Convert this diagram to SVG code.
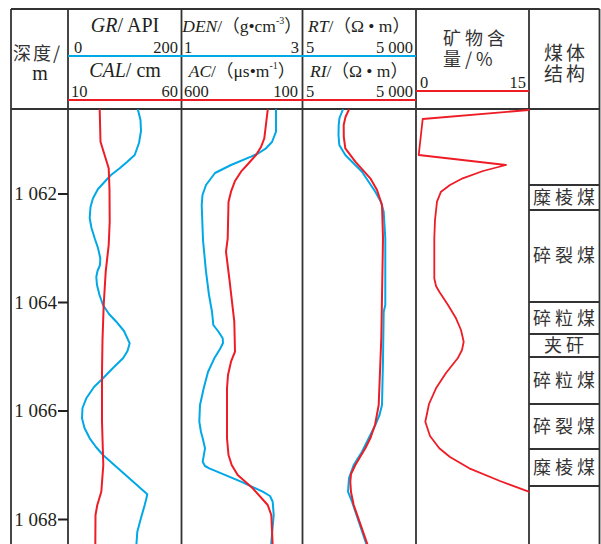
<svg xmlns="http://www.w3.org/2000/svg" width="601" height="544" viewBox="0 0 601 544">
<style>
.frame{stroke:#333;stroke-width:1.8;fill:none}
.t{font-family:"Liberation Serif","Noto Sans CJK SC",serif;fill:#231f20}
.lab{font-size:17.5px}
.big{font-size:20px}
.num{font-size:16.5px}
.dep{font-size:19px}
.cjk{font-family:"Noto Sans CJK SC","Liberation Serif",serif;fill:#333;font-size:18px;letter-spacing:4px}
.blue{stroke:#00a8e6;stroke-width:2;fill:none;stroke-linejoin:round;stroke-linecap:round}
.red{stroke:#ee1c25;stroke-width:2;fill:none;stroke-linejoin:round;stroke-linecap:round}
.tick{stroke:#231f20;stroke-width:2}
</style>
<rect width="601" height="544" fill="#fff"/>
<g id="frame">
<path class="frame" d="M11,9H599.5M11,109H599.5M11,9V544M68,9V544M181.5,9V544M302.5,9V544M416,9V544M529,9V544M599.5,9V544"/>
</g>
<g id="header-depth">
<text class="cjk" x="13" y="60" style="font-size:18px;letter-spacing:2px">深度/</text>
<text class="t big" x="40" y="80" text-anchor="middle">m</text>
</g>
<g id="header-gr-cal">
<text class="t big" x="125" y="32" text-anchor="middle"><tspan font-style="italic">GR</tspan>/ API</text>
<text class="t num" x="74" y="53">0</text>
<text class="t num" x="178" y="53" text-anchor="end">200</text>
<line x1="68" y1="56" x2="416" y2="56" stroke="#00a8e6" stroke-width="2"/>
<text class="t big" x="125" y="77" text-anchor="middle"><tspan font-style="italic">CAL</tspan>/ cm</text>
<text class="t num" x="71" y="97">10</text>
<text class="t num" x="178" y="97" text-anchor="end">60</text>
<line x1="68" y1="100" x2="416" y2="100" stroke="#ee1c25" stroke-width="2"/>
</g>
<g id="header-den-ac">
<text class="t lab" x="242" y="32" text-anchor="middle"><tspan font-style="italic">DEN</tspan>/（g•cm<tspan font-size="10" dy="-8">-3</tspan><tspan dy="8">）</tspan></text>
<text class="t num" x="184" y="53">1</text>
<text class="t num" x="299" y="53" text-anchor="end">3</text>
<text class="t lab" x="242" y="77" text-anchor="middle"><tspan font-style="italic">AC</tspan>/（μs•m<tspan font-size="10" dy="-8">-1</tspan><tspan dy="8">）</tspan></text>
<text class="t num" x="184" y="97">600</text>
<text class="t num" x="298" y="97" text-anchor="end">100</text>
</g>
<g id="header-rt-ri">
<text class="t lab" x="359" y="32" text-anchor="middle"><tspan font-style="italic">RT</tspan>/（Ω • m）</text>
<text class="t num" x="306" y="53">5</text>
<text class="t num" x="413" y="53" text-anchor="end">5 000</text>
<text class="t lab" x="359" y="77" text-anchor="middle"><tspan font-style="italic">RI</tspan>/（Ω • m）</text>
<text class="t num" x="306" y="97">5</text>
<text class="t num" x="413" y="97" text-anchor="end">5 000</text>
</g>
<g id="header-mineral">
<text class="cjk" x="443" y="45">矿物含</text>
<text class="cjk" x="443" y="66">量/%</text>
<text class="t num" x="420" y="88">0</text>
<text class="t num" x="526" y="88" text-anchor="end">15</text>
<line x1="416" y1="91" x2="529" y2="91" stroke="#ee1c25" stroke-width="2"/>
</g>
<g id="header-structure">
<text class="cjk" x="566" y="60" text-anchor="middle" style="font-size:19px;letter-spacing:3px">煤体</text>
<text class="cjk" x="566" y="81" text-anchor="middle" style="font-size:19px;letter-spacing:3px">结构</text>
</g>
<g id="depth-scale">
<path class="tick" d="M58,194H68M58,302.5H68M58,411H68M58,519.5H68"/>
<text class="t dep" x="57" y="200" text-anchor="end">1 062</text>
<text class="t dep" x="57" y="308.5" text-anchor="end">1 064</text>
<text class="t dep" x="57" y="417" text-anchor="end">1 066</text>
<text class="t dep" x="57" y="525.5" text-anchor="end">1 068</text>
</g>
<g id="track-gr-cal">
<polyline class="blue" points="138,110 140.5,120 141,131 139,143 134.7,155 127,162 119.7,168.3 111,175 104.7,181.7 98,189 93,198.3 90.5,207 89.7,218.3 91.5,228 94.7,238.3 98,248 100.3,258.3 100,265 97.5,271 96.3,277 97,285 99.5,295 103,305 109,314 116.3,321.7 124,331 129.7,343.3 127.5,351 123,358.3 113,368 103,378.3 94,387 86.3,398.3 82.5,408 82,418.3 84.5,428 89.7,438.3 96,447 103,455 147.3,494.3 146,500 144.7,505 141,518 137.3,531.7 136.3,546"/>
<polyline class="red" points="99.7,110 100.5,141.7 108.7,168.3 109.5,190 109.7,221.7 108.7,245 105.7,271.7 103.7,305 102.5,340 102,371.7 102,421.7 103.3,465 101.3,491.7 97.3,505 95.5,515 95.3,546"/>
</g>
<g id="track-den-ac">
<polyline class="blue" points="276,110 276,131.7 272,142 266,148.3 258,153.5 251,156.7 231,165 215,173 206,185 202.5,195 201.7,205 203,240 206,271.7 209,295 212,311.7 213.3,325 218,331 222.7,338.3 223,343 220,349 214.3,358.3 208,372 203.7,388.3 200,405 199.3,421.7 201,432 202.7,438.3 205,448.3 202.7,461.7 205,466 209.3,468.3 241,481.7 262.7,491.7 270,496 272.7,501.7 273.7,515 271,546"/>
<polyline class="red" points="267.7,110 264.3,138.3 261,147 256,155 248,164 241,171.7 235,181 231,191.7 228.5,202 228.3,211.7 227.7,238.3 226,251.7 229.3,278.3 234.3,321.7 235,351.7 231,361.7 228,375 227,388.3 227,438.3 228.5,455 231.7,465 237.7,475 252.7,488.3 267.7,505 271.3,515 272.7,546"/>
</g>
<g id="track-rt-ri">
<polyline class="blue" points="342.7,110 339.5,118 338.7,125 338.5,135 339.3,145 345.3,155 362,171.7 375.3,191.7 381,202 383.7,211.7 385.3,238.3 385.3,305 383.7,311.7 383,360 382,405 379.5,415 375.3,425 362,451.7 353.7,465 349,478 348,491.7 352,501.7 367,546"/>
<polyline class="red" points="348.7,110 345.5,117 343.7,125 343.8,137 345.3,148.3 355.3,161.7 370.3,178.3 377,190 382,205 383,238.3 381.3,338.3 378.7,405 375,425 370.3,438.3 365.3,448.3 355.3,465 351,474 350.3,481.7 351,492 353.7,505 368,546"/>
</g>
<g id="track-mineral">
<polyline class="red" style="stroke-width:1.8" points="528.7,110 422.7,119 418.7,155 506,165 483,171 462.7,178.3 450,185 441,191.7 437,201.7 435,220 434.3,238.3 434.3,278.3 436,286 439.3,291.7 448,305 456,318.3 461,330 463.7,341.7 462,350 457.7,358.3 446,373 436,388.3 429,404 425.3,421.7 430,436 439.3,448.3 450,457 469.3,468.3 500,481 528.7,491.7"/>
</g>
<g id="structure-column">
<path class="frame" d="M529,185H599.5M529,210H599.5M529,302H599.5M529,334H599.5M529,357H599.5M529,404H599.5M529,449H599.5M529,486H599.5"/>
<text class="cjk" x="566" y="204" text-anchor="middle">糜棱煤</text>
<text class="cjk" x="566" y="262" text-anchor="middle">碎裂煤</text>
<text class="cjk" x="566" y="324.5" text-anchor="middle">碎粒煤</text>
<text class="cjk" x="566" y="352" text-anchor="middle">夹矸</text>
<text class="cjk" x="566" y="387" text-anchor="middle">碎粒煤</text>
<text class="cjk" x="566" y="433" text-anchor="middle">碎裂煤</text>
<text class="cjk" x="566" y="474" text-anchor="middle">糜棱煤</text>
</g>
</svg>
